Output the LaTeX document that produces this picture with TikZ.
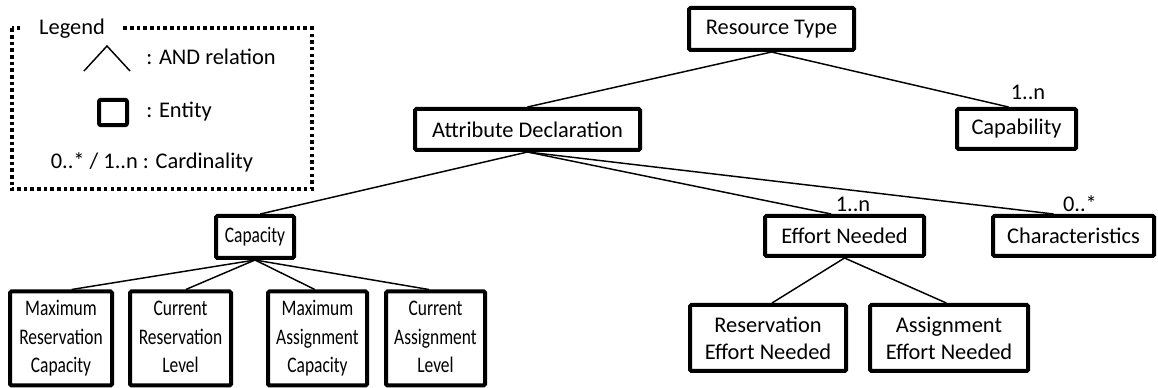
\documentclass[tikz,border=0pt]{standalone}
\usepackage{fontspec}
\usepackage{graphicx}
\setmainfont{Carlito}
\newcommand\squeezetext[1]{\raisebox{-2pt}{\scalebox{0.76}[0.97]{\begin{tabular}{@{}c@{}}#1\end{tabular}}}}
\begin{document}
\begin{tikzpicture}[x=0.75pt,y=-0.75pt,
  ent/.style={draw, line width=3pt, rounded corners=1pt, align=center, inner sep=0pt, font=\fontsize{16.8}{20.3}\selectfont},
  entsq/.style={ent, font=\fontsize{17.2}{21.8}\selectfont},
  conn/.style={line width=1.1pt},
  card/.style={inner sep=0pt, font=\fontsize{16.8}{20.3}\selectfont},
  legtext/.style={inner sep=0pt, font=\fontsize{16.8}{20.3}\selectfont}]
\useasboundingbox (0,0) rectangle (1158,388);
% entities
\node[ent, minimum width=123.75pt, minimum height=31.5pt] (rt) at (771.5,29) {Resource Type};
\node[ent, minimum width=168.75pt, minimum height=30.75pt] (ad) at (527.5,129.5) {Attribute Declaration};
\node[ent, minimum width=89.25pt, minimum height=30pt] (cb) at (1016.5,129) {Capability};
\node[entsq, minimum width=58.5pt, minimum height=31.5pt] (cp) at (255,237) {\squeezetext{Capacity}};
\node[ent, minimum width=119.25pt, minimum height=30pt] (en) at (844.5,236) {Effort Needed};
\node[ent, minimum width=120.75pt, minimum height=30pt] (ch) at (1073.5,236) {Characteristics};
\node[entsq, minimum width=76.5pt, minimum height=70.5pt] (b1) at (61,338.5) {\squeezetext{Maximum\\Reservation\\Capacity}};
\node[entsq, minimum width=75.75pt, minimum height=70.5pt] (b2) at (180.5,338.5) {\squeezetext{Current\\Reservation\\Level}};
\node[entsq, minimum width=74.25pt, minimum height=70.5pt] (b3) at (317.5,338.5) {\squeezetext{Maximum\\Assignment\\Capacity}};
\node[entsq, minimum width=74.25pt, minimum height=70.5pt] (b4) at (435.5,338.5) {\squeezetext{Current\\Assignment\\Level}};
\node[ent, minimum width=117pt, minimum height=49.5pt] (ren) at (768,338) {Reservation\\Effort Needed};
\node[ent, minimum width=118.5pt, minimum height=49.5pt] (aen) at (949,338) {Assignment\\Effort Needed};
% connectors
\draw[conn] (rt.south) -- (ad.north);
\draw[conn] (rt.south) -- ([xshift=-6pt]cb.north);
\draw[conn] (ad.south) -- ([xshift=4pt]cp.north);
\draw[conn] (ad.south) -- ([xshift=-10pt]en.north);
\draw[conn] (ad.south) -- ([xshift=-15pt]ch.north);
\draw[conn] (cp.south) -- ([xshift=8pt]b1.north);
\draw[conn] (cp.south) -- ([xshift=4pt]b2.north);
\draw[conn] (cp.south) -- ([xshift=-2pt]b3.north);
\draw[conn] (cp.south) -- ([xshift=-5pt]b4.north);
\draw[conn] (en.south) -- ([xshift=3pt]ren.north);
\draw[conn] (en.south) -- ([xshift=-2pt]aen.north);
% cardinalities
\node[card] (c1) at (1028,92) {1..n};
\node[card] (c2) at (853,204) {1..n};
\node[card] (c3) at (1080,204) {0..*};
% legend
\draw[line width=3pt, dash pattern=on 2.6pt off 2.4pt] (11.5,28.5) rectangle (311.5,189.5);
\node[legtext, fill=white, inner xsep=12pt, inner ysep=4pt] (lg) at (72,29) {Legend};
\coordinate (and1) at (84,71);
\coordinate (and2) at (107,46);
\coordinate (and3) at (130,71);
\draw[conn] (and1) -- (and2) -- (and3);
\node[legtext, anchor=west] (l1) at (146,57) {: AND relation};
\node[draw, line width=3pt, rounded corners=1.5pt, minimum width=21pt, minimum height=19pt, inner sep=0pt] (lsq) at (113,112.5) {};
\node[legtext, anchor=west] (l2) at (146,112) {: Entity};
\node[legtext] (l3) at (152,162) {0..* / 1..n : Cardinality};
\end{tikzpicture}
\end{document}
